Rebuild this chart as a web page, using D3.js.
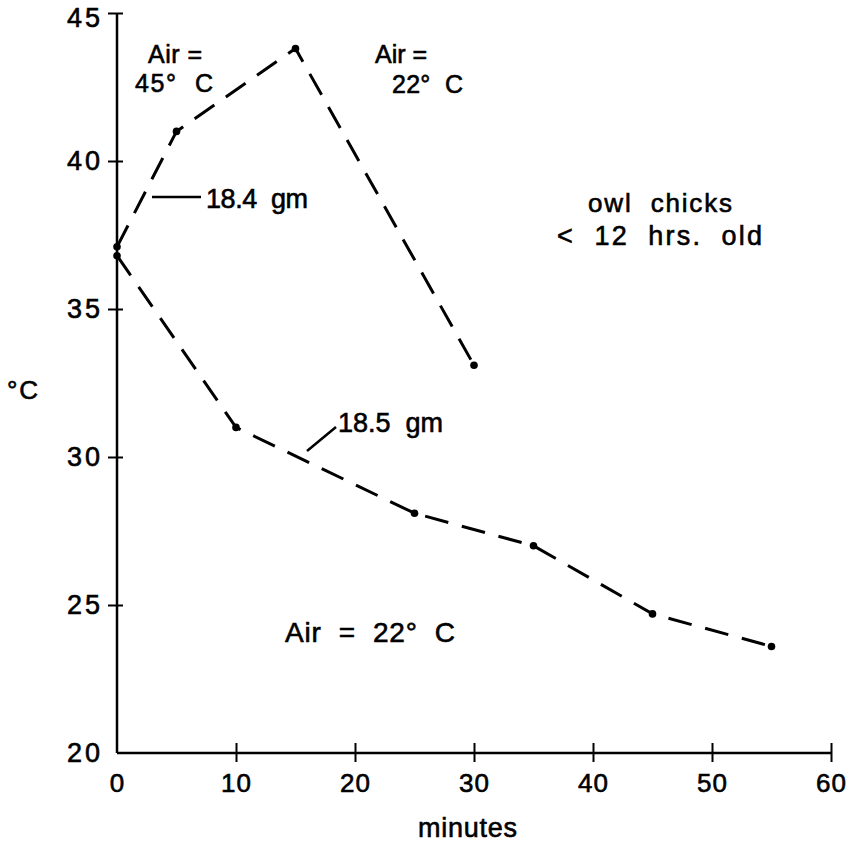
<!DOCTYPE html>
<html>
<head>
<meta charset="utf-8">
<script src="https://cdn.jsdelivr.net/npm/d3@7"></script>
<style>
  body { margin: 0; background: #fff; }
  svg text { font-family: "Liberation Sans", Arial, sans-serif; fill: #000; stroke: #000; stroke-width: 0.6; white-space: pre; }
</style>
</head>
<body>
<svg id="chart" width="849" height="844"></svg>
<script>
// owl chick body temperature, minutes vs °C

const xTicks = [0, 10, 20, 30, 40, 50, 60];
const yTicks = [20, 25, 30, 35, 40, 45];

// 18.4 gm chick: air 45°C then 22°C
const minutesA = [0, 5, 15, 30];
const tempA = [37.1, 41.0, 43.8, 33.1];

// 18.5 gm chick: air 22°C
const minutesB = [0, 10, 25, 35, 45, 55];
const tempB = [36.8, 31.0, 28.1, 27.0, 24.7, 23.6];

const svg = d3.select("#chart");

const x = d3.scaleLinear().domain([0, 60]).range([117, 831]);
const y = d3.scaleLinear().domain([20, 45]).range([753, 13]);

// axes
const xAxis = svg.append("g")
  .attr("transform", `translate(0,${y(20)})`)
  .call(d3.axisBottom(x).tickValues(xTicks).tickSize(9).tickPadding(12));
xAxis.select(".domain").attr("d", `M${x(0)},0H${x(60)}`).attr("stroke-width", 2.5);
xAxis.selectAll(".tick line").attr("y1", -10).attr("y2", 9).attr("stroke-width", 2);
xAxis.selectAll(".tick text").style("font-size", "26px").style("letter-spacing", "1px");

const yAxis = svg.append("g")
  .attr("transform", `translate(${x(0)},0)`)
  .call(d3.axisLeft(y).tickValues(yTicks).tickSize(9).tickPadding(5));
yAxis.select(".domain").attr("d", `M0,${y(20)}V${y(45)}`).attr("stroke-width", 2.5);
yAxis.selectAll(".tick line").attr("x1", -9).attr("x2", 6).attr("stroke-width", 2);
yAxis.selectAll(".tick text").style("font-size", "27px").style("letter-spacing", "3px");
yAxis.selectAll(".tick").filter(d => d === 45).select("text").attr("dy", "0.5em");
yAxis.selectAll(".tick").filter(d => d === 20).select("line").remove();
xAxis.selectAll(".tick").filter(d => d === 0).select("line").remove();

// lines
const line = d3.line().x(d => x(d[0])).y(d => y(d[1]));
const seriesA = minutesA.map((m, i) => [m, tempA[i]]);
const seriesB = minutesB.map((m, i) => [m, tempB[i]]);

[seriesA, seriesB].forEach(s => {
  svg.append("path")
    .attr("d", line(s))
    .attr("fill", "none")
    .attr("stroke", "#000")
    .attr("stroke-width", 3)
    .attr("stroke-dasharray", "24,14");
  svg.selectAll(null).data(s).enter().append("circle")
    .attr("cx", d => x(d[0]))
    .attr("cy", d => y(d[1]))
    .attr("r", 3.8)
    .attr("fill", "#000");
});

// annotations and axis titles (x, baseline, width, size)
const notes = [
  { t: "minutes", x: 418, y: 837, w: 99, s: 27 },
  { t: "°C", x: 7, y: 399, w: 31, s: 26 },
  { t: "Air =", x: 148, y: 63, w: 54, s: 25 },
  { t: "45°  C", x: 135, y: 92, w: 78, s: 25 },
  { t: "Air =", x: 375, y: 63, w: 52, s: 25 },
  { t: "22°  C", x: 392, y: 93, w: 71, s: 25 },
  { t: "18.4  gm", x: 206, y: 208, w: 102, s: 27 },
  { t: "18.5  gm", x: 338, y: 432, w: 105, s: 27 },
  { t: "owl  chicks", x: 588, y: 212, w: 144, s: 26 },
  { t: "<  12  hrs.  old", x: 557, y: 245, w: 205, s: 27 },
  { t: "Air  =  22°  C", x: 285, y: 642, w: 170, s: 28 }
];
svg.selectAll(".note").data(notes).enter().append("text")
  .attr("class", "note")
  .attr("x", d => d.x).attr("y", d => d.y)
  .attr("textLength", d => d.w)
  .attr("lengthAdjust", "spacing")
  .style("font-size", d => d.s + "px")
  .text(d => d.t);

// leader lines
svg.append("line").attr("x1", 152).attr("y1", 197).attr("x2", 201).attr("y2", 197)
  .attr("stroke", "#000").attr("stroke-width", 2.5);
svg.append("line").attr("x1", 307).attr("y1", 451).attr("x2", 336).attr("y2", 427)
  .attr("stroke", "#000").attr("stroke-width", 2.5);
</script>
</body>
</html>
